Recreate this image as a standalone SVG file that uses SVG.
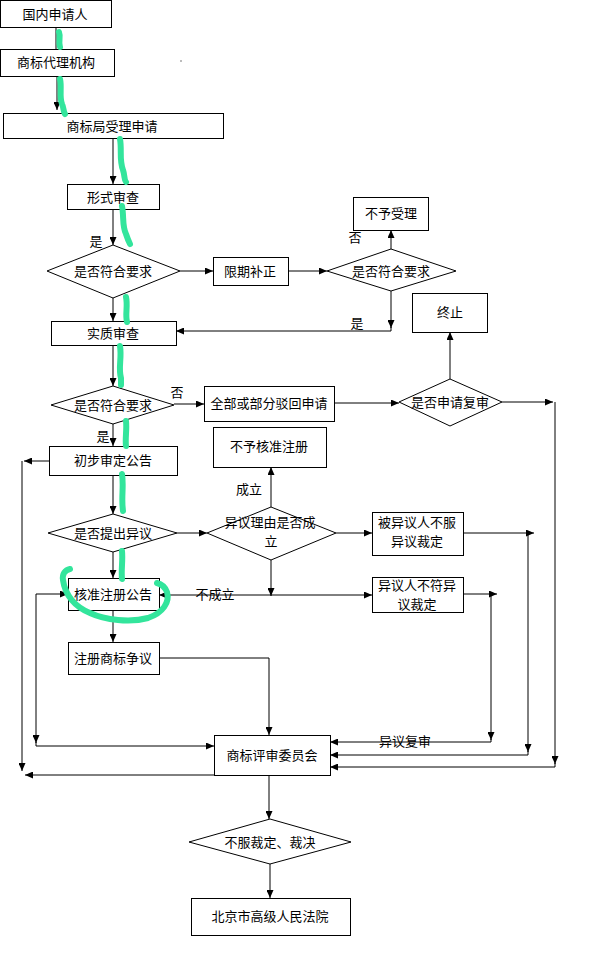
<svg xmlns="http://www.w3.org/2000/svg" width="594" height="953" viewBox="0 0 594 953">
<defs>
<marker id="ah" markerWidth="8" markerHeight="7" refX="8" refY="3.5" orient="auto" markerUnits="userSpaceOnUse">
<path d="M0,0 L8,3.5 L0,7 z" fill="#000"/>
</marker>
<style>
.box{fill:#fff;stroke:#000;stroke-width:1}
.ln{fill:none;stroke:#000;stroke-width:1}
.ar{fill:none;stroke:#000;stroke-width:1;marker-end:url(#ah)}
text{font-family:"Noto Sans CJK SC","Noto Sans",sans-serif;font-size:13px;fill:#000}
.c{text-anchor:middle}
.hl{fill:none;stroke:#33e59c;stroke-width:6;stroke-linecap:round;stroke-linejoin:round}
</style>
</defs>
<rect width="594" height="953" fill="#fff"/>

<g id="connectors">
<line class="ln" x1="56" y1="27" x2="56" y2="49"/>
<line class="ar" x1="57" y1="76" x2="57" y2="110"/>
<line class="ar" x1="113" y1="138" x2="113" y2="184"/>
<line class="ar" x1="113" y1="209" x2="113" y2="245"/>
<line class="ar" x1="180" y1="271" x2="213" y2="271"/>
<line class="ar" x1="288" y1="271" x2="327" y2="271"/>
<line class="ar" x1="391" y1="249" x2="391" y2="230"/>
<line class="ar" x1="391" y1="291" x2="391" y2="328"/>
<polyline class="ar" points="391,327 391,331 176,331"/>
<line class="ar" x1="113" y1="298" x2="113" y2="321"/>
<line class="ar" x1="113" y1="345" x2="113" y2="386"/>
<line class="ar" x1="174" y1="404" x2="204" y2="404"/>
<line class="ar" x1="334" y1="403" x2="399" y2="403"/>
<line class="ar" x1="450" y1="379" x2="450" y2="332"/>
<line class="ar" x1="502" y1="402" x2="553" y2="402"/>
<line class="ar" x1="555" y1="402" x2="555" y2="764"/>
<polyline class="ar" points="555,763 555,767 330,767"/>
<line class="ar" x1="113" y1="424" x2="113" y2="446"/>
<line class="ar" x1="49" y1="461" x2="24" y2="461"/>
<line class="ar" x1="22" y1="461" x2="22" y2="771"/>
<line class="ar" x1="214" y1="775" x2="25" y2="775"/>
<line class="ar" x1="113" y1="475" x2="113" y2="514"/>
<line class="ar" x1="177" y1="533" x2="207" y2="533"/>
<line class="ar" x1="271" y1="507" x2="271" y2="467"/>
<line class="ar" x1="336" y1="533" x2="372" y2="533"/>
<line class="ar" x1="463" y1="533" x2="534" y2="533"/>
<line class="ar" x1="528" y1="533" x2="528" y2="752"/>
<polyline class="ar" points="528,751 528,755 330,755"/>
<line class="ar" x1="463" y1="594" x2="497" y2="594"/>
<line class="ar" x1="491" y1="594" x2="491" y2="740"/>
<polyline class="ar" points="491,739 491,742 330,742"/>
<line class="ar" x1="271" y1="560" x2="271" y2="596"/>
<line class="ar" x1="271" y1="595" x2="372" y2="595"/>
<line class="ar" x1="271" y1="595" x2="159" y2="595"/>
<line class="ar" x1="113" y1="552" x2="113" y2="578"/>
<line class="ar" x1="113" y1="610" x2="113" y2="642"/>
<polyline class="ar" points="159,658 269,658 269,735"/>
<line class="ar" x1="36" y1="594" x2="68" y2="594"/>
<line class="ar" x1="36" y1="594" x2="36" y2="743"/>
<polyline class="ar" points="36,742 36,746 214,746"/>
<line class="ar" x1="269" y1="775" x2="269" y2="819"/>
<line class="ar" x1="270" y1="864" x2="270" y2="898"/>
</g>

<g id="labels">
<text class="c" x="96" y="246">是</text>
<text class="c" x="355" y="242">否</text>
<text class="c" x="357" y="328">是</text>
<text class="c" x="177" y="397">否</text>
<text class="c" x="103" y="441">是</text>
<text class="c" x="249" y="494">成立</text>
<text class="c" x="215" y="599">不成立</text>
<text class="c" x="405" y="746">异议复审</text>
</g>

<g id="n1"><rect class="box" x="0.5" y="0.5" width="111" height="27"/><text class="c" x="55" y="19">国内申请人</text></g>
<g id="n2"><rect class="box" x="0.5" y="49.5" width="114" height="27"/><text class="c" x="56" y="67">商标代理机构</text></g>
<g id="n3"><rect class="box" x="3.5" y="113.5" width="220" height="25"/><text class="c" x="112" y="131">商标局受理申请</text></g>
<g id="n4"><rect class="box" x="67.5" y="184.5" width="92" height="25"/><text class="c" x="113" y="202">形式审查</text></g>
<g id="d1"><polygon class="box" points="113,245 180,271 113,298 47,271"/><text class="c" x="113" y="276">是否符合要求</text></g>
<g id="n5"><rect class="box" x="213.5" y="257.5" width="75" height="28"/><text class="c" x="250" y="276">限期补正</text></g>
<g id="d2"><polygon class="box" points="391,249 456,271 391,291 327,271"/><text class="c" x="391" y="276">是否符合要求</text></g>
<g id="n6"><rect class="box" x="353.5" y="197.5" width="75" height="33"/><text class="c" x="391" y="218">不予受理</text></g>
<g id="n7"><rect class="box" x="412.5" y="293.5" width="75" height="39"/><text class="c" x="450" y="317">终止</text></g>
<g id="n8"><rect class="box" x="51.5" y="321.5" width="125" height="24"/><text class="c" x="113" y="338">实质审查</text></g>
<g id="d3"><polygon class="box" points="113,386 174,405 113,424 51,405"/><text class="c" x="113" y="410">是否符合要求</text></g>
<g id="n9"><rect class="box" x="204.5" y="386.5" width="130" height="35"/><text class="c" x="269" y="408">全部或部分驳回申请</text></g>
<g id="d4"><polygon class="box" points="450,379 502,402 450,426 399,402"/><text class="c" x="450" y="407">是否申请复审</text></g>
<g id="n10"><rect class="box" x="49.5" y="446.5" width="128" height="29"/><text class="c" x="113" y="465">初步审定公告</text></g>
<g id="n11"><rect class="box" x="213.5" y="427.5" width="113" height="40"/><text class="c" x="269" y="451">不予核准注册</text></g>
<g id="d5"><polygon class="box" points="113,514 177,533 113,552 48,533"/><text class="c" x="113" y="538">是否提出异议</text></g>
<g id="d6"><polygon class="box" points="271,507 336,533 271,560 207,533"/><text class="c" x="270" y="527">异议理由是否成</text><text class="c" x="271" y="546">立</text></g>
<g id="n12"><rect class="box" x="372.5" y="512.5" width="91" height="43"/><text class="c" x="417" y="527">被异议人不服</text><text class="c" x="417" y="546">异议裁定</text></g>
<g id="n13"><rect class="box" x="372.5" y="577.5" width="91" height="35"/><text class="c" x="417" y="590">异议人不符异</text><text class="c" x="417" y="609">议裁定</text></g>
<g id="n14"><rect class="box" x="68.5" y="578.5" width="91" height="32"/><text class="c" x="113" y="599">核准注册公告</text></g>
<g id="n15"><rect class="box" x="68.5" y="642.5" width="91" height="32"/><text class="c" x="113" y="663">注册商标争议</text></g>
<g id="n16"><rect class="box" x="214.5" y="735.5" width="116" height="40"/><text class="c" x="272" y="760">商标评审委员会</text></g>
<g id="d7"><polygon class="box" points="270,819 351,842 270,864 189,842"/><text class="c" x="270" y="847">不服裁定、裁决</text></g>
<g id="n17"><rect class="box" x="191.5" y="898.5" width="159" height="37"/><text class="c" x="270" y="921">北京市高级人民法院</text></g>

<g id="highlight">
<path class="hl" d="M59,32 C61,37 58,42 60,47"/>
<path class="hl" d="M60,79 C62,88 59,96 62,104 C64,108 63,111 65,114"/>
<path class="hl" d="M120,139 C122,150 119,160 123,170 C125,176 124,180 126,182"/>
<path class="hl" d="M122,206 C124,216 122,226 126,234 C128,240 129,242 130,244"/>
<path class="hl" d="M126,297 C128,306 125,314 127,322"/>
<path class="hl" d="M120,346 C122,358 118,368 121,378 L121,385"/>
<path class="hl" d="M126,421 C127,430 125,438 126,446"/>
<path class="hl" d="M122,474 C124,486 121,498 123,511"/>
<path class="hl" d="M122,551 C123,560 121,570 122,579"/>
<path class="hl" d="M70,569 C65,570 62,574 63,580 C65,595 75,607 90,613 C105,620 130,623 148,618 C163,613 170,602 167,592 C165,587 161,584 157,583"/>
<circle cx="181" cy="61" r="0.8" fill="#666"/>
</g>
</svg>
